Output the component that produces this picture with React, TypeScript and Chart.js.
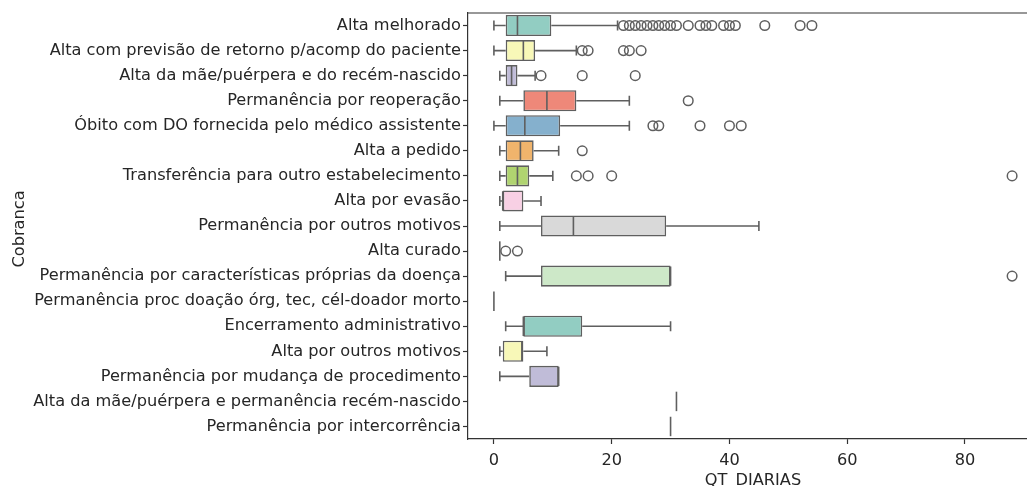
import React, { useEffect, useRef } from 'react';
import { Chart, registerables } from 'chart.js';

Chart.register(...registerables);

const categories = [
  'Alta melhorado',
  'Alta com previsão de retorno p/acomp do paciente',
  'Alta da mãe/puérpera e do recém-nascido',
  'Permanência por reoperação',
  'Óbito com DO fornecida pelo médico assistente',
  'Alta a pedido',
  'Transferência para outro estabelecimento',
  'Alta por evasão',
  'Permanência por outros motivos',
  'Alta curado',
  'Permanência por características próprias da doença',
  'Permanência proc doação órg, tec, cél-doador morto',
  'Encerramento administrativo',
  'Alta por outros motivos',
  'Permanência por mudança de procedimento',
  'Alta da mãe/puérpera e permanência recém-nascido',
  'Permanência por intercorrência',
];

const whiskerLow = [0, 0, 1, 1, 0, 1, 1, 1, 1, 1, 2, 0, 2, 1, 1, 31, 30];
const q1 = [2, 2, 2, 5, 2, 2, 2, 1.5, 8, 1, 8, 0, 5, 1.5, 6, 31, 30];
const median = [4, 5, 3, 9, 5.25, 4.5, 4, 1.5, 13.5, 1, 30, 0, 5, 4.75, 11, 31, 30];
const q3 = [9.75, 7, 4, 14, 11.25, 6.75, 6, 5, 29.25, 1, 30, 0, 15, 5, 11, 31, 30];
const whiskerHigh = [21, 14, 7, 23, 23, 11, 10, 8, 45, 1, 30, 0, 30, 9, 11, 31, 30];

const outliers: number[][] = [
  [22, 23, 24, 25, 26, 27, 28, 29, 30, 31, 33, 35, 36, 37, 39, 40, 41, 46, 52, 54],
  [15, 16, 22, 23, 25],
  [8, 15, 24],
  [33],
  [27, 28, 35, 40, 42],
  [15],
  [14, 16, 20, 88],
  [],
  [],
  [2, 4],
  [88],
  [],
  [],
  [],
  [],
  [],
  [],
];

const xTicks = [0, 20, 40, 60, 80];
const xAxisTitle = 'QT_DIARIAS';
const yAxisTitle = 'Cobranca';

// seaborn Set3 palette, desaturated
const palette = [
  '#92cdc2', '#f8f8b8', '#c0bcd8', '#ee8879', '#85b0cd', '#f0b46c',
  '#b0d470', '#f8d0e4', '#d9d9d9', '#b884b8', '#cde8c8', '#f2e678',
];

const LINE = '#5f5f5f';
const LW = 1.6;
const TEXT = '#262626';
const FONT_FAMILY = "'DejaVu Sans', 'Liberation Sans', sans-serif";
const FONT_SIZE = 16.2;
const BOX_FRAC = 0.84;

const boxExtras = {
  id: 'boxExtras',
  afterDatasetsDraw(chart: any) {
    const ctx = chart.ctx as CanvasRenderingContext2D;
    const xs = chart.scales.x;
    const ys = chart.scales.y;
    const band = Math.abs(ys.getPixelForValue(1) - ys.getPixelForValue(0));
    const half = (band * BOX_FRAC) / 2 - LW / 2;
    const capHalf = (band * 0.8) / 4;
    ctx.save();
    ctx.strokeStyle = LINE;
    ctx.lineWidth = LW;
    ctx.lineCap = 'butt';
    categories.forEach((_, i) => {
      const yc = ys.getPixelForValue(i);
      const pLo = xs.getPixelForValue(whiskerLow[i]);
      const pQ1 = xs.getPixelForValue(q1[i]);
      const pQ3 = xs.getPixelForValue(q3[i]);
      const pHi = xs.getPixelForValue(whiskerHigh[i]);
      const pMed = xs.getPixelForValue(median[i]);
      ctx.beginPath();
      if (whiskerLow[i] < q1[i]) {
        ctx.moveTo(pQ1, yc);
        ctx.lineTo(pLo, yc);
        ctx.moveTo(pLo, yc - capHalf);
        ctx.lineTo(pLo, yc + capHalf);
      }
      if (whiskerHigh[i] > q3[i]) {
        ctx.moveTo(pQ3, yc);
        ctx.lineTo(pHi, yc);
        ctx.moveTo(pHi, yc - capHalf);
        ctx.lineTo(pHi, yc + capHalf);
      }
      ctx.moveTo(pMed, yc - half);
      ctx.lineTo(pMed, yc + half);
      ctx.stroke();
    });
    // top spine
    const area = chart.chartArea;
    ctx.strokeStyle = '#333';
    ctx.lineWidth = 1.2;
    ctx.beginPath();
    ctx.moveTo(area.left, area.top);
    ctx.lineTo(area.right, area.top);
    ctx.stroke();
    ctx.restore();
  },
  afterDraw(chart: any) {
    const ctx = chart.ctx as CanvasRenderingContext2D;
    const ys = chart.scales.y;
    ctx.save();
    ctx.fillStyle = TEXT;
    ctx.font = `${FONT_SIZE}px ${FONT_FAMILY}`;
    ctx.textAlign = 'center';
    ctx.textBaseline = 'alphabetic';
    ctx.fillText(xAxisTitle, 753, 485);
    const yMid = (ys.top + ys.bottom) / 2 + 3;
    ctx.translate(24, yMid);
    ctx.rotate(-Math.PI / 2);
    ctx.fillText(yAxisTitle, 0, 0);
    ctx.restore();
  },
};

export default function App() {
  const ref = useRef<HTMLCanvasElement | null>(null);

  useEffect(() => {
    if (!ref.current) return;
    const flierPoints = categories.flatMap((c, i) => outliers[i].map((v) => ({ x: v, y: c })));
    const tickFont = { family: FONT_FAMILY, size: FONT_SIZE };
    const chart = new Chart(ref.current, {
      type: 'bar',
      data: {
        labels: categories,
        datasets: [
          {
            type: 'bar',
            data: categories.map((_, i) => [q1[i], q3[i]]) as any,
            backgroundColor: categories.map((_, i) => palette[i % palette.length]),
            borderColor: LINE,
            borderWidth: LW,
            borderSkipped: false,
            categoryPercentage: BOX_FRAC,
            barPercentage: 1,
          } as any,
          {
            type: 'scatter',
            data: flierPoints as any,
            pointStyle: 'circle',
            pointRadius: 4.8,
            pointBorderWidth: 1.5,
            pointBorderColor: LINE,
            pointBackgroundColor: 'rgba(0,0,0,0)',
            showLine: false,
          } as any,
        ],
      },
      options: {
        indexAxis: 'y',
        responsive: false,
        animation: false,
        layout: { autoPadding: false, padding: { top: 13, left: 0, right: 0, bottom: 0 } },
        plugins: { legend: { display: false }, tooltip: { enabled: false } },
        scales: {
          x: {
            type: 'linear',
            min: -4.4,
            max: 90.53,
            afterBuildTicks: (s: any) => {
              s.ticks = xTicks.map((v) => ({ value: v }));
            },
            afterFit: (s: any) => {
              s.height = 47;
            },
            grid: { display: true, drawOnChartArea: false, tickLength: 5, tickWidth: 1.2, tickColor: '#333' },
            border: { display: true, color: '#333', width: 1.2 },
            ticks: { font: tickFont, color: TEXT, padding: 7, maxRotation: 0 },
          },
          y: {
            type: 'category',
            offset: true,
            afterFit: (s: any) => {
              s.width = 468;
            },
            grid: { display: true, offset: false, drawOnChartArea: false, tickLength: 5, tickWidth: 1.2, tickColor: '#333' },
            border: { display: true, color: '#333', width: 1.2 },
            ticks: { font: tickFont, color: TEXT, padding: 2, autoSkip: false },
          },
        },
      } as any,
      plugins: [boxExtras],
    });
    return () => chart.destroy();
  }, []);

  return (
    <canvas
      ref={ref}
      width={1027}
      height={486}
      style={{ position: 'absolute', left: 0, top: 0, display: 'block', background: '#fff' }}
    />
  );
}
